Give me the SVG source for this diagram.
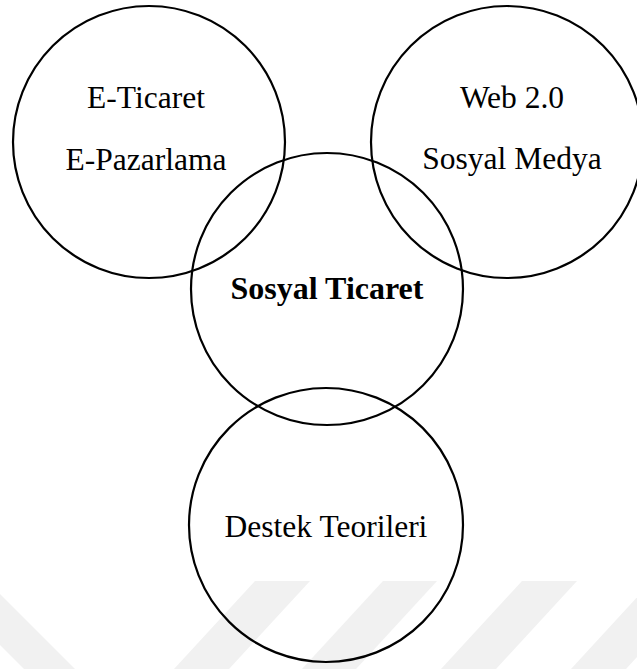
<svg xmlns="http://www.w3.org/2000/svg" width="637" height="669" viewBox="0 0 637 669">
  <style>
    .wm { fill: #f1f1f1; stroke: none; }
    .node circle { fill: none; stroke: #000; stroke-width: 2.2; }
    .label { font-family: "Liberation Serif", "Times New Roman", serif; font-size: 31.5px; fill: #000; text-anchor: middle; }
    .bold { font-weight: bold; font-size: 32px; }
  </style>
  <rect width="637" height="669" fill="#fff"/>
  <g id="watermark">
    <polygon class="wm" points="0,594 75,669 24,669 0,645"/>
    <polygon class="wm" points="255,581 310,581 229,669 174,669"/>
    <polygon class="wm" points="383,581 437,581 356,669 302,669"/>
    <polygon class="wm" points="522,581 577,581 496,669 441,669"/>
    <polygon class="wm" points="652,581 707,581 626,669 571,669"/>
  </g>
  <g id="connectors"></g>
  <g id="node-eticaret" class="node">
    <circle cx="149" cy="142" r="136"/>
    <text class="label" x="146" y="108">E-Ticaret</text>
    <text class="label" x="146" y="170">E-Pazarlama</text>
  </g>
  <g id="node-web" class="node">
    <circle cx="507" cy="142" r="136"/>
    <text class="label" x="512" y="108">Web 2.0</text>
    <text class="label" x="512" y="169">Sosyal Medya</text>
  </g>
  <g id="node-sosyal" class="node">
    <circle cx="327" cy="289" r="136"/>
    <text class="label bold" x="327" y="299">Sosyal Ticaret</text>
  </g>
  <g id="node-destek" class="node">
    <circle cx="326" cy="525" r="137"/>
    <text class="label" x="326" y="537">Destek Teorileri</text>
  </g>
</svg>
